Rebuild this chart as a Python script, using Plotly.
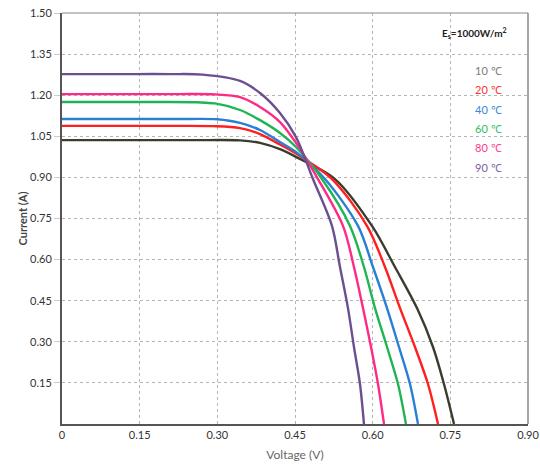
import plotly.graph_objects as go

# Temperature labels and colours
temps = ["10 ℃", "20 ℃", "40 ℃", "60 ℃", "80 ℃", "90 ℃"]
line_colors = ["#3c3c2e", "#ff1f1f", "#2a7fd4", "#1fb552", "#ff2a85", "#6b4f91"]
label_colors = ["#7a7a7a", "#ff3030", "#3a88d8", "#2cbf60", "#ff3a8a", "#7a62a0"]

# I-V curves (voltage V, current A)
v_10 = [0, 0.086, 0.172, 0.258, 0.3438, 0.3824, 0.4210, 0.4519, 0.5272, 0.5987, 0.6431, 0.6856, 0.7165, 0.7377, 0.7571]
i_10 = [1.036, 1.036, 1.036, 1.036, 1.035, 1.026, 1.003, 0.975, 0.894, 0.723, 0.573, 0.423, 0.281, 0.146, 0]

v_20 = [0, 0.073, 0.146, 0.219, 0.2916, 0.3438, 0.3824, 0.4210, 0.4519, 0.5214, 0.5890, 0.6238, 0.6528, 0.6817, 0.7068, 0.7262]
i_20 = [1.088, 1.088, 1.088, 1.088, 1.087, 1.080, 1.058, 1.020, 0.987, 0.894, 0.723, 0.573, 0.423, 0.281, 0.146, 0]

v_40 = [0, 0.075, 0.15, 0.225, 0.2993, 0.3438, 0.3824, 0.4210, 0.4519, 0.5079, 0.5717, 0.6006, 0.6277, 0.6508, 0.6721, 0.6875]
i_40 = [1.113, 1.113, 1.113, 1.113, 1.112, 1.099, 1.073, 1.029, 0.993, 0.894, 0.723, 0.573, 0.423, 0.281, 0.146, 0]

v_60 = [0, 0.065, 0.13, 0.195, 0.2607, 0.2955, 0.3438, 0.3824, 0.4210, 0.4519, 0.5021, 0.5562, 0.5832, 0.6045, 0.6277, 0.6489, 0.6643]
i_60 = [1.175, 1.175, 1.175, 1.175, 1.174, 1.170, 1.146, 1.109, 1.062, 1.011, 0.894, 0.723, 0.573, 0.423, 0.281, 0.146, 0]

v_80 = [0, 0.075, 0.15, 0.225, 0.2955, 0.3438, 0.3824, 0.4210, 0.4519, 0.4944, 0.5427, 0.5639, 0.5813, 0.5968, 0.6103, 0.6219]
i_80 = [1.204, 1.204, 1.204, 1.204, 1.203, 1.193, 1.157, 1.102, 1.026, 0.894, 0.723, 0.573, 0.423, 0.281, 0.146, 0]

v_90 = [0, 0.07, 0.14, 0.21, 0.272, 0.3438, 0.3824, 0.4210, 0.4519, 0.4847, 0.5214, 0.5369, 0.5523, 0.5639, 0.5755, 0.5832]
i_90 = [1.277, 1.277, 1.277, 1.277, 1.275, 1.252, 1.208, 1.135, 1.047, 0.894, 0.723, 0.573, 0.423, 0.281, 0.146, 0]

curves_v = [v_10, v_20, v_40, v_60, v_80, v_90]
curves_i = [i_10, i_20, i_40, i_60, i_80, i_90]

x_ticks = [0, 0.15, 0.30, 0.45, 0.60, 0.75, 0.90]
x_tick_text = ["0", "0.15", "0.30", "0.45", "0.60", "0.75", "0.90"]
y_ticks = [0.15, 0.30, 0.45, 0.60, 0.75, 0.90, 1.05, 1.20, 1.35, 1.50]
y_tick_text = ["0.15", "0.30", "0.45", "0.60", "0.75", "0.90", "1.05", "1.20", "1.35", "1.50"]

FONT = "Lato, 'Open Sans', sans-serif"

fig = go.Figure()
for v, i, c, t in zip(curves_v, curves_i, line_colors, temps):
    fig.add_trace(go.Scatter(x=v, y=i, mode="lines", name=t,
                             line=dict(color=c, width=2.4, shape="spline", smoothing=0.9),
                             showlegend=False, hoverinfo="skip"))

# Legend as coloured text
fig.add_annotation(x=0.886, y=0.951, xref="paper", yref="paper", showarrow=False,
                   xanchor="center", yanchor="middle",
                   text="<b>E<sub>s</sub>=1000W/m<sup>2</sup></b>",
                   font=dict(family=FONT, size=10, color="#222"))
label_y = [0.861, 0.813, 0.764, 0.720, 0.672, 0.625]
for t, c, yy in zip(temps, label_colors, label_y):
    fig.add_annotation(x=0.916, y=yy, xref="paper", yref="paper", showarrow=False,
                       xanchor="center", yanchor="middle",
                       text=t, font=dict(family=FONT, size=11, color=c))

# top and right frame lines
fig.add_shape(type="line", xref="paper", yref="paper", x0=0, x1=1, y0=1, y1=1,
              line=dict(color="#888", width=1))
fig.add_shape(type="line", xref="paper", yref="paper", x0=1, x1=1, y0=0, y1=1,
              line=dict(color="#888", width=1.5))

fig.update_layout(
    width=540, height=470,
    margin=dict(l=62, r=12, t=13, b=46),
    paper_bgcolor="white", plot_bgcolor="white",
    font=dict(family=FONT, size=11, color="#333"),
    xaxis=dict(range=[0, 0.9], tickvals=x_ticks, ticktext=x_tick_text, automargin=False,
               showgrid=True, gridcolor="#b5b5b5", griddash="dot", gridwidth=1,
               showline=True, linecolor="#555", linewidth=2, zeroline=False,
               ticks="", tickfont=dict(family=FONT, size=11, color="#333"),
               title=dict(text="Voltage (V)", font=dict(family=FONT, size=12, color="#666"),
                          standoff=10)),
    yaxis=dict(range=[0, 1.5], tickvals=y_ticks, ticktext=y_tick_text, automargin=False,
               showgrid=True, gridcolor="#b5b5b5", griddash="dot", gridwidth=1,
               showline=True, linecolor="#555", linewidth=2, zeroline=False,
               ticks="outside", ticklen=6, tickcolor="#ccc",
               tickfont=dict(family=FONT, size=11, color="#333"),
               title=dict(text="<b>Current (A)</b>", font=dict(family=FONT, size=11, color="#444"),
                          standoff=0)),
)

fig.write_html("out.html")
